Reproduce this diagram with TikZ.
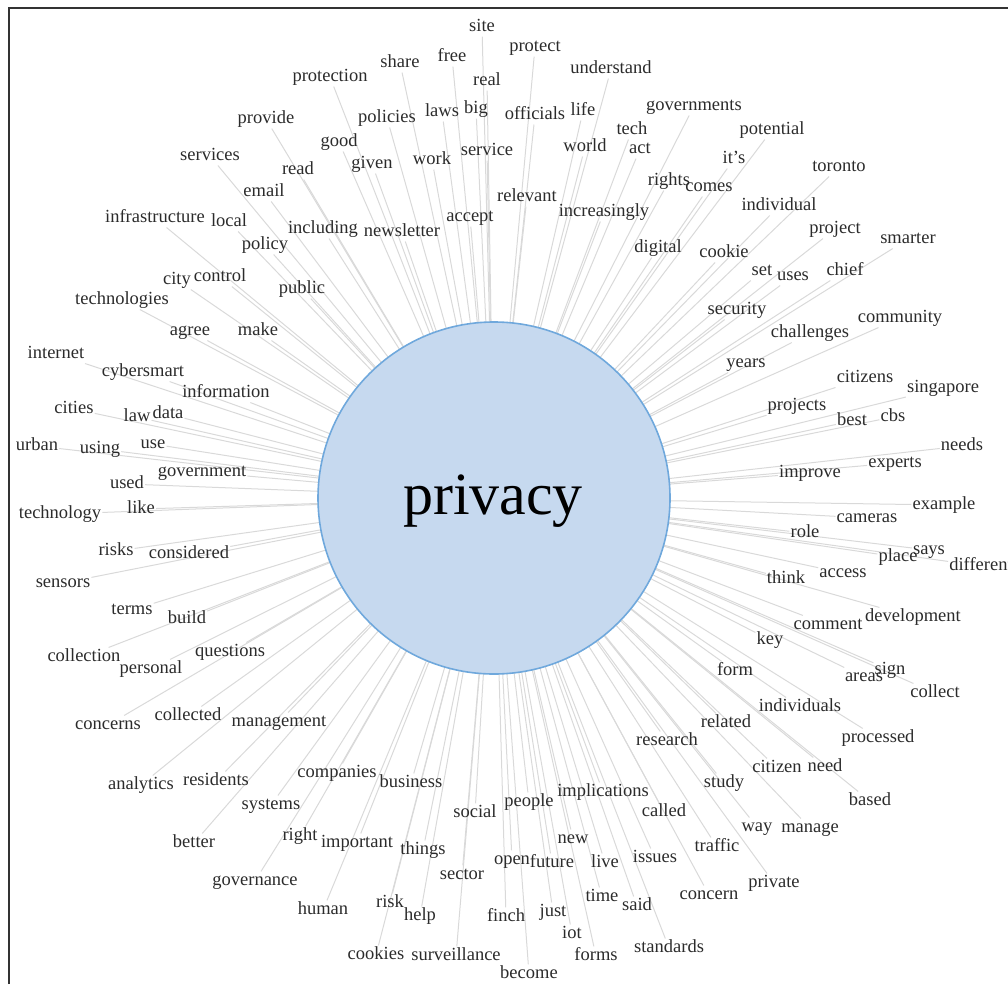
\documentclass[tikz,border=0pt]{standalone}
\usepackage{fontspec}
\setmainfont{Liberation Serif}
\usepackage{xcolor}
\usetikzlibrary{backgrounds}
\definecolor{hubfill}{HTML}{C6D9EF}
\definecolor{hubline}{HTML}{6FA8DC}
\definecolor{spokegray}{HTML}{D9D9D9}
\definecolor{wordgray}{HTML}{2B2B2B}

\begin{document}
\begin{tikzpicture}[x=1pt,y=-1pt,
  word/.style={font=\fontsize{18.5}{20}\selectfont,text=wordgray,inner sep=1pt,text height=13pt,text depth=3.7pt},
  spoke/.style={spokegray,line width=1pt},
  hub/.style={circle,draw=hubline,fill=hubfill,line width=1.6pt,minimum size=352pt,inner sep=0pt}]
\useasboundingbox (0,0) rectangle (1008,984);
\clip (0,0) rectangle (1008,984);
\coordinate (c) at (494,498);
% words round the hub (pixel positions of the figure)
\foreach \t/\x/\y [count=\i] in {
  site/482/27, protect/535/47, share/400/63, free/452/57, understand/611/69,
  real/487/81, protection/330/77, policies/387/118, laws/442/112, big/476/109,
  officials/535/115, life/583/111, governments/694/106, provide/266/119, tech/632/130,
  potential/772/130, good/339/142, world/585/147, act/640/149, service/487/151,
  work/432/160, given/372/164, services/210/156, it's/734/159, toronto/839/167,
  read/298/170, rights/669/181, comes/709/187, email/264/192, relevant/527/197,
  individual/779/206, increasingly/604/212, accept/470/217, infrastructure/155/218, local/229/222,
  project/835/229, including/323/229, newsletter/402/232, smarter/908/239, policy/265/245,
  digital/658/248, cookie/724/253, set/762/271, chief/845/271, uses/793/276,
  control/220/277, city/177/280, public/302/289, technologies/122/300, security/737/310,
  community/900/318, agree/190/331, make/258/331, challenges/810/333, internet/56/354,
  years/746/363, cybersmart/143/372, citizens/865/378, singapore/943/388, information/226/393,
  projects/797/406, cities/74/409, data/168/414, law/137/417, cbs/893/417,
  best/852/421, use/153/444, needs/962/446, urban/37/446, using/100/449,
  experts/895/463, government/202/472, improve/810/473, used/127/484, example/944/505,
  like/141/509, technology/60/514, cameras/867/518, role/805/533, says/929/550,
  risks/116/551, considered/189/554, place/898/557, different/981/566, access/843/573,
  think/786/579, sensors/63/583, terms/132/610, development/913/617, build/187/619,
  comment/828/625, key/770/640, questions/230/652, collection/84/657, personal/151/669,
  sign/890/670, form/735/671, areas/864/677, collect/935/693, individuals/800/707,
  collected/188/716, management/279/722, related/726/723, concerns/108/725, processed/878/738,
  research/667/741, citizen/777/768, need/825/767, companies/337/773, residents/216/781,
  business/411/783, analytics/141/785, study/724/783, implications/603/792, people/529/802,
  based/870/801, systems/271/805, called/664/812, social/475/813, way/757/827,
  manage/810/828, right/300/836, new/573/839, important/357/843, better/194/843,
  traffic/717/847, things/423/850, issues/655/858, open/512/860, future/552/863,
  live/605/863, sector/462/875, governance/255/881, private/774/883, concern/709/895,
  time/602/897, risk/390/903, said/637/906, human/323/910, just/553/912,
  help/420/916, finch/506/917, iot/572/934, standards/669/948, cookies/376/955,
  forms/596/956, surveillance/456/956, become/529/974}{
  \node[word] (w\i) at (\x,\y) {\t};
  \begin{scope}[on background layer]
    \draw[spoke] (c) -- (w\i);
  \end{scope}
}
\node[hub] (hub) at (c) {};
\node[font=\fontsize{60}{60}\selectfont,text=black] (lbl) at (493,501) {privacy};
% frame, cut off at right and bottom
\draw[line width=1.6pt,black!80] (9,984) -- (9,8) -- (1008,8);
\end{tikzpicture}
\end{document}
